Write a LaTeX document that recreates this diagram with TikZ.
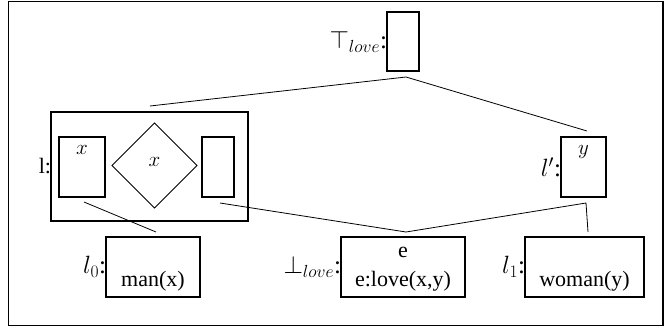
\RequirePackage{fix-cm}
\documentclass[tikz,border=0pt]{standalone}
\usepackage{fontspec}
\setmainfont{Liberation Serif}
\usetikzlibrary{shapes.geometric,calc}

\begin{document}
\begin{tikzpicture}[x=1pt,y=-1pt,
  font=\fontsize{22}{26}\selectfont,
  box/.style 2 args={draw,line width=1.8pt,inner sep=0pt,outer sep=0pt,
    minimum width=#1,minimum height=#2},
  lab/.style={anchor=east,inner sep=0pt,outer sep=0pt,
    font=\fontsize{25}{30}\selectfont},
  txt/.style={inner sep=0pt},
  var/.style={inner sep=0pt,font=\fontsize{21}{25}\selectfont},
  wire/.style={line width=0.8pt}]
\useasboundingbox (0,0) rectangle (664,327);
% outer frame
\draw[line width=1.3pt] (8.5,1.5) rectangle (663,325.5);

% boxes
\node[box={32pt}{59pt}] (top) at (403,41.5) {};
\node[box={197pt}{109pt}] (l) at (149.5,166.5) {};
\node[box={46pt}{60pt}] (lx) at (82,167) {};
\node[draw,line width=0.8pt,diamond,aspect=1,inner sep=0pt,outer sep=0pt,
      minimum size=85pt] (d) at (154.5,165.5) {};
\node[box={32pt}{60pt}] (lr) at (218,167) {};
\node[box={45pt}{60pt}] (lp) at (583.5,167) {};
\node[box={94pt}{60pt}] (l0) at (153,267) {};
\node[box={124pt}{60pt}] (bot) at (403,267) {};
\node[box={119pt}{60pt}] (l1) at (584.5,267) {};

% box labels
\node[lab] at (top.west) {$\top_{love}$:};
\node[lab,font=\fontsize{22}{26}\selectfont] at (l.west) {l:};
\node[lab] at (lp.west) {$l'$:};
\node[lab] at (l0.west) {$l_0$:};
\node[lab] at (bot.west) {$\bot_{love}$:};
\node[lab] at (l1.west) {$l_1$:};

% box contents
\node[var] at ($(lx.center)+(0,-17)$) {$x$};
\node[var] at ($(d.center)+(0,-3.5)$) {$x$};
\node[var] at ($(lp.center)+(0,-15)$) {$y$};
\node[txt] at ($(l0.center)+(0,14)$) {man(x)};
\node[txt] at ($(bot.center)+(0,-15)$) {e};
\node[txt] at ($(bot.center)+(0,14)$) {e:love(x,y)};
\node[txt] at ($(l1.center)+(0,14)$) {woman(y)};

% connectors
\coordinate (apexT) at ($(top.south)+(3,6)$);
\coordinate (apexB) at ($(bot.north)+(3,-5)$);
\coordinate (lpfoot) at ($(lp.south)+(2.5,6)$);
\draw[wire] ($(l.north)+(0.5,-6)$) -- (apexT) -- ($(lp.north)+(3.5,-6)$);
\draw[wire] ($(lx.south)+(2,5)$) -- ($(l0.north)+(3,-5)$);
\draw[wire] ($(lr.south)+(2,6)$) -- (apexB) -- (lpfoot) -- ($(l1.north)+(3.5,-5)$);
\end{tikzpicture}
\end{document}
